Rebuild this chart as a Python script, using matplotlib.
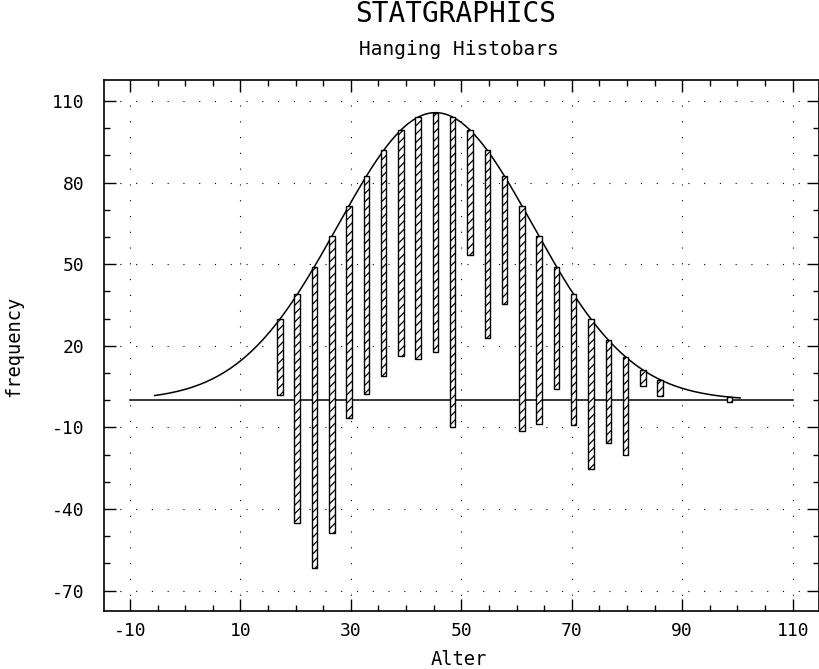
import numpy as np
import matplotlib
matplotlib.use('Agg')
import matplotlib.pyplot as plt
from matplotlib.ticker import MultipleLocator, FixedLocator

# ---- data ----
bin_centers = [17.15, 20.28, 23.41, 26.54, 29.67, 32.80, 35.93, 39.06, 42.19,
               45.32, 48.45, 51.58, 54.71, 57.84, 60.97, 64.10, 67.23, 70.36,
               73.49, 76.62, 79.75, 82.88, 86.01, 89.14, 92.27, 95.40, 98.53]
observed = [28, 84, 111, 109, 78, 80, 83, 83, 89, 88, 114, 46, 69, 47, 83, 69,
            45, 48, 55, 38, 36, 6, 6, 0, 0, 0, 2]
# fitted normal curve (as drawn)
fit_mean = 45.32
fit_sd = 17.7
fit_peak = 105.7
curve_range = (-5.5, 100.5)

x_major = [-10, 10, 30, 50, 70, 90, 110]
y_major = [-70, -40, -10, 20, 50, 80, 110]

title = "STATGRAPHICS"
subtitle = "Hanging Histobars"
xlabel = "Alter"
ylabel = "frequency"

FONT = ['DejaVu Sans Mono']
plt.rcParams['font.family'] = FONT
plt.rcParams['hatch.linewidth'] = 0.9
plt.rcParams['axes.unicode_minus'] = False

def normal_curve(x):
    x = np.asarray(x, dtype=float)
    return fit_peak * np.exp(-0.5 * ((x - fit_mean) / fit_sd) ** 2)

fig = plt.figure(figsize=(8.19, 6.69), dpi=100)
ax = fig.add_axes([104/819, 58/669, 715/819 - 0.0005, 531/669])

ax.set_xlim(-14.7, 114.7)
ax.set_ylim(-77.5, 117.7)

# grid
ax.xaxis.set_major_locator(FixedLocator(x_major))
ax.yaxis.set_major_locator(FixedLocator(y_major))
ax.xaxis.set_minor_locator(MultipleLocator(5))
ax.yaxis.set_minor_locator(FixedLocator(np.arange(-70, 111, 10)))
ax.grid(True, which='major', color='black', linewidth=0.8,
        linestyle=(0, (1, 13.2)))
ax.set_axisbelow(True)

# baseline
ax.plot([x_major[0], x_major[-1]], [0, 0], color='black', lw=1.1, zorder=2)

# curve
xc = np.linspace(curve_range[0], curve_range[1], 400)
ax.plot(xc, normal_curve(xc), color='black', lw=1.1, zorder=3)

# hanging bars
centers = np.array(bin_centers)
obs = np.array(observed, dtype=float)
expected = normal_curve(centers)
mask = obs > 0
ax.bar(centers[mask], obs[mask], bottom=expected[mask] - obs[mask], width=1.0,
       facecolor='white', edgecolor='black', linewidth=1.0, hatch='////',
       zorder=4)

# ticks and spines
ax.tick_params(which='both', direction='in', top=True, right=True,
               colors='black', width=1.0)
ax.tick_params(which='major', length=8.5, labelsize=13)
ax.tick_params(which='minor', length=4.5)
ax.tick_params(axis='y', which='major', pad=14)
ax.tick_params(axis='x', which='major', pad=8)
for s in ax.spines.values():
    s.set_linewidth(1.2)

# texts
fig.text(456/819, 1 - 21.7/669, title, ha='center', va='baseline',
         fontsize=20, family=FONT)
fig.text(459/819, 1 - 55/669, subtitle, ha='center', va='baseline',
         fontsize=14, family=FONT)
fig.text(459/819, 1 - 665/669, xlabel, ha='center', va='baseline',
         fontsize=13.5, family=FONT)
fig.text(14/819, 1 - 346/669, ylabel, ha='center', va='center',
         rotation=90, fontsize=13.5, family=FONT)

fig.savefig('out.png', dpi=100)
